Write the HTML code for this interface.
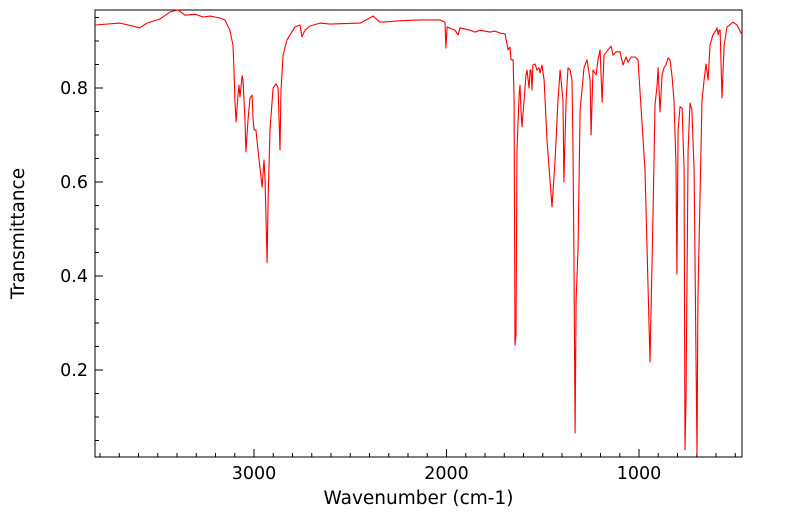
<!DOCTYPE html>
<html><head><meta charset="utf-8"><style>
html,body{margin:0;padding:0;background:#fff;}
svg{display:block;font-family:"DejaVu Sans","Liberation Sans",sans-serif;}
</style></head><body>
<svg id="chart" width="799" height="516"></svg>
<script>
const wavenumbers=[3826,3696,3592,3556,3488,3436,3395,3358,3306,3265,3229,3177,3151,3125,3109,3104,3099,3093,3083,3078,3073,3062,3057,3047,3042,3031,3021,3010,3005,3000,2990,2979,2958,2948,2943,2932,2927,2917,2901,2886,2875,2865,2860,2849,2829,2787,2761,2751,2735,2709,2657,2605,2449,2382,2345,2242,2138,2034,2008,2003,1997,1956,1940,1930,1878,1852,1826,1774,1748,1722,1696,1680,1670,1665,1654,1649,1644,1639,1634,1623,1618,1613,1608,1597,1587,1582,1571,1566,1561,1556,1551,1540,1530,1519,1514,1504,1493,1488,1478,1452,1436,1421,1410,1395,1390,1379,1369,1358,1348,1343,1338,1332,1327,1317,1306,1286,1270,1254,1249,1239,1223,1213,1202,1192,1182,1161,1145,1135,1119,1099,1083,1067,1057,1041,1021,1005,984,969,943,927,917,906,901,891,880,870,860,849,839,829,818,808,803,797,787,776,766,761,756,745,735,725,714,699,694,673,662,652,641,631,616,600,595,589,584,579,569,558,543,511,491,465];
const transmittance=[0.934,0.938,0.928,0.938,0.947,0.962,0.966,0.955,0.957,0.951,0.953,0.949,0.945,0.923,0.891,0.838,0.774,0.728,0.785,0.806,0.781,0.826,0.817,0.732,0.664,0.732,0.779,0.785,0.736,0.711,0.711,0.668,0.589,0.647,0.609,0.428,0.562,0.711,0.800,0.809,0.800,0.668,0.796,0.870,0.902,0.930,0.934,0.909,0.923,0.932,0.938,0.936,0.938,0.953,0.940,0.943,0.945,0.945,0.940,0.885,0.930,0.923,0.913,0.928,0.923,0.919,0.923,0.919,0.921,0.917,0.915,0.881,0.887,0.860,0.860,0.774,0.253,0.274,0.668,0.785,0.806,0.753,0.717,0.774,0.828,0.838,0.800,0.838,0.838,0.796,0.849,0.851,0.838,0.843,0.832,0.849,0.817,0.774,0.689,0.547,0.647,0.774,0.838,0.774,0.600,0.774,0.843,0.838,0.817,0.668,0.455,0.066,0.349,0.455,0.753,0.843,0.860,0.817,0.700,0.838,0.828,0.860,0.881,0.770,0.870,0.881,0.889,0.870,0.877,0.877,0.849,0.866,0.855,0.866,0.866,0.860,0.723,0.626,0.217,0.540,0.764,0.806,0.843,0.749,0.828,0.843,0.849,0.864,0.860,0.828,0.774,0.636,0.404,0.711,0.760,0.757,0.626,0.030,0.136,0.668,0.768,0.753,0.626,0.019,0.349,0.774,0.817,0.851,0.817,0.891,0.913,0.923,0.928,0.913,0.923,0.923,0.779,0.891,0.930,0.940,0.934,0.913];
const xTickLabels=[3000,2000,1000];
const yTickLabels=[0.2,0.4,0.6,0.8];

const svg=document.getElementById('chart');
const NS='http://www.w3.org/2000/svg';
const L=95,R=742,T=10,B=457;
const X0=3826,X1=465;
function xs(w){return L+(X0-w)/(X0-X1)*(R-L);}
function ys(v){return 464-470*v;}
function mk(tag,attrs,parent){const e=document.createElementNS(NS,tag);for(const k in attrs)e.setAttribute(k,attrs[k]);(parent||svg).appendChild(e);return e;}

const frame=mk('rect',{x:L,y:T,width:R-L,height:B-T,fill:'none',stroke:'#000','stroke-width':1});



const xg=mk('g',{});


for(let w=3800;w>=500;w-=100){
  const major=w%1000===0;
  const t=mk('line',{x1:xs(w),x2:xs(w),y1:B,y2:B-(major?8:4),stroke:'#000','stroke-width':1},xg);
  
  
}
xTickLabels.forEach(w=>{
  const t=mk('text',{x:xs(w),y:B+22,'text-anchor':'middle','font-size':17.5,fill:'#000'},xg);
  t.textContent=w;
  
  
});
const xt=mk('text',{x:(L+R)/2,y:504,'text-anchor':'middle','font-size':18.5,fill:'#000'});
xt.textContent='Wavenumber (cm-1)';



const yg=mk('g',{});


for(let i=1;i<=19;i++){
  const v=i*0.05;
  const yy=ys(v);
  if(yy<T||yy>B)continue;
  const major=i%4===0;
  const t=mk('line',{x1:L,x2:L+(major?8:4),y1:yy,y2:yy,stroke:'#000','stroke-width':1},yg);
  
  
}
yTickLabels.forEach(v=>{
  const t=mk('text',{x:L-7,y:ys(v)+6,'text-anchor':'end','font-size':17.5,fill:'#000'},yg);
  t.textContent=v.toFixed(1);
  
  
});
const yt=mk('text',{x:24,y:(T+B)/2,'text-anchor':'middle','font-size':18.5,fill:'#000',transform:'rotate(-90 24 '+((T+B)/2)+')'});
yt.textContent='Transmittance';



let d='';
wavenumbers.forEach((w,i)=>{d+=(i?'L':'M')+xs(w).toFixed(1)+' '+ys(transmittance[i]).toFixed(1);});
const line=mk('path',{d:d,fill:'none',stroke:'#ff0000','stroke-width':1.1,'stroke-linejoin':'round'});


</script>
</body></html>
